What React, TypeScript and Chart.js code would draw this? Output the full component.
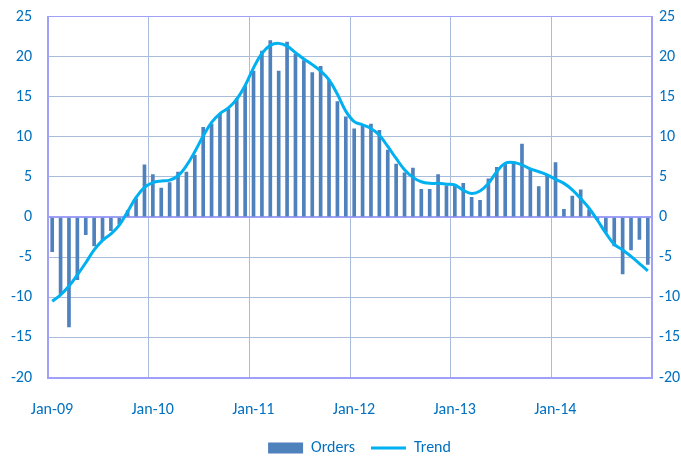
import React, { useEffect, useRef } from "react";
import { Chart, registerables } from "chart.js";

Chart.register(...registerables);

const yearLabels = ["Jan-09", "Jan-10", "Jan-11", "Jan-12", "Jan-13", "Jan-14"];

const orders = [
  -4.3, -9.6, -13.7, -7.8, -2.2, -3.6, -2.9, -1.7, -0.9, 0.8, 2.3, 6.5,
  5.3, 3.6, 4.3, 5.6, 5.6, 7.7, 11.2, 11.6, 12.8, 13.5, 14.8, 16.3,
  18.2, 20.7, 22.0, 18.2, 21.8, 20.3, 19.5, 18.0, 18.8, 17.1, 14.4, 12.5,
  11.0, 11.3, 11.6, 10.8, 8.35, 6.6, 5.5, 6.1, 3.45, 3.45, 5.3, 3.9,
  4.0, 4.2, 2.45, 2.1, 4.75, 6.2, 6.6, 6.9, 9.1, 5.9, 3.8, 5.3,
  6.8, 0.95, 2.6, 3.4, 0.9, -0.3, -1.9, -3.6, -7.1, -4.1, -2.8, -5.9,
];

const trend = [
  -10.5, -9.7, -8.6, -7.2, -5.7, -4.1, -2.9, -2.1, -1.0, 0.7, 2.45, 3.7,
  4.3, 4.5, 4.6, 5.15, 6.4, 8.15, 10.1, 11.8, 12.9, 13.6, 14.7, 16.4,
  18.6, 20.4, 21.4, 21.65, 21.3, 20.5, 19.7, 19.0, 18.2, 17.1, 15.3, 13.2,
  11.9, 11.5, 11.05, 10.2, 8.8, 7.3, 5.9, 4.95, 4.4, 4.2, 4.2, 4.1,
  4.0, 3.35, 2.95, 3.25, 4.2, 5.65, 6.7, 6.8, 6.5, 6.0, 5.65, 5.25,
  4.7, 4.2, 3.4, 2.3, 1.1, -0.4, -2.0, -3.4, -4.1, -4.9, -5.8, -6.7,
];

const FONT = "Carlito, Lato, 'Open Sans', sans-serif";
const TICK_COLOR = "#0070C0";
const AXIS_COLOR = "#A0A0F8";
const GRID_COLOR = "#A9BCDA";

const legendShift = {
  id: "legendShift",
  afterLayout(chart: any) {
    const lg = chart.legend;
    if (lg) {
      lg.left += 19;
      lg.right += 19;
    }
  },
};

export default function App() {
  const ref = useRef<HTMLCanvasElement | null>(null);

  useEffect(() => {
    if (!ref.current) return;
    const barData = orders.map((v, i) => ({ x: i + 0.5, y: v }));
    const lineData = trend.map((v, i) => ({ x: i + 0.5, y: v }));
    const chart = new Chart(ref.current, {
      type: "bar",
      data: {
        datasets: [
          {
            type: "bar",
            label: "Orders",
            data: barData as any,
            backgroundColor: "#4F81BD",
            borderWidth: 0,
            barThickness: 3,
            order: 1,
            pointStyle: "rect",
          } as any,
          {
            type: "line",
            label: "Trend",
            data: lineData as any,
            borderColor: "#00B0F0",
            backgroundColor: "#00B0F0",
            borderWidth: 3,
            pointRadius: 0,
            tension: 0.4,
            order: 0,
            pointStyle: "line",
          } as any,
        ],
      },
      plugins: [legendShift],
      options: {
        animation: false,
        responsive: false,
        maintainAspectRatio: false,
        layout: { padding: { top: 16.5, left: 0, right: 0, bottom: -10 } },
        plugins: {
          tooltip: { enabled: false },
          legend: {
            position: "bottom",
            labels: {
              usePointStyle: true,
              pointStyleWidth: 35,
              boxHeight: 11,
              color: TICK_COLOR,
              font: { family: FONT, size: 16 },
              padding: 16,
              sort: (a: any, b: any) => a.datasetIndex - b.datasetIndex,
            },
          },
        },
        scales: {
          x: {
            type: "linear",
            min: 0,
            max: 72,
            offset: false,
            grid: {
              offset: false,
              drawTicks: false,
              color: (ctx: any) =>
                ctx.tick && (ctx.tick.value === 0 || ctx.tick.value === 72) ? AXIS_COLOR : GRID_COLOR,
              lineWidth: 1,
            },
            border: { color: AXIS_COLOR, width: 2 },
            ticks: {
              stepSize: 12,
              autoSkip: false,
              maxRotation: 0,
              padding: 22.5,
              labelOffset: 4,
              color: TICK_COLOR,
              font: { family: FONT, size: 16 },
              callback: (v: any) => {
                const k = Math.round(Number(v) / 12);
                return k < yearLabels.length ? yearLabels[k] : "";
              },
            },
            afterFit: (s: any) => {
              s.height = 46.5;
            },
          },
          y: {
            type: "linear",
            position: "left",
            min: -20,
            max: 25,
            grid: {
              drawTicks: false,
              color: (ctx: any) =>
                ctx.tick && (ctx.tick.value === 0 || ctx.tick.value === 25 || ctx.tick.value === -20)
                  ? AXIS_COLOR
                  : GRID_COLOR,
              lineWidth: (ctx: any) => (ctx.tick && ctx.tick.value === 0 ? 2 : 1),
            },
            border: { color: AXIS_COLOR, width: 2 },
            ticks: {
              stepSize: 5,
              padding: 16,
              color: TICK_COLOR,
              font: { family: FONT, size: 16 },
            },
            afterFit: (s: any) => {
              s.width = 48;
              s.paddingTop = 10;
              s.paddingBottom = 10;
            },
          },
          y2: {
            type: "linear",
            position: "right",
            min: -20,
            max: 25,
            grid: { drawOnChartArea: false, drawTicks: false },
            border: { color: AXIS_COLOR, width: 2 },
            ticks: {
              stepSize: 5,
              padding: 7,
              color: TICK_COLOR,
              font: { family: FONT, size: 16 },
            },
            afterFit: (s: any) => {
              s.width = 29;
              s.paddingTop = 10;
              s.paddingBottom = 10;
            },
          },
        },
      } as any,
    });
    return () => chart.destroy();
  }, []);

  return (
    <div style={{ position: "fixed", left: 0, top: 0, width: 681, height: 456, background: "#fff" }}>
      <canvas ref={ref} width={681} height={456} style={{ width: 681, height: 456 }} />
    </div>
  );
}
